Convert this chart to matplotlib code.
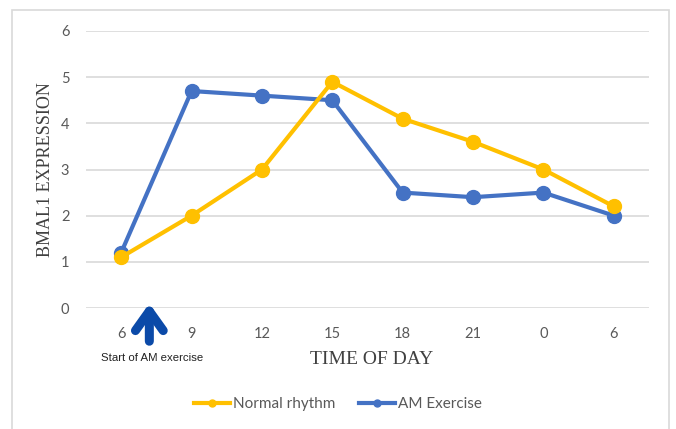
import matplotlib.pyplot as plt
from matplotlib.patches import Rectangle

# chart data
hours = ['6', '9', '12', '15', '18', '21', '0', '6']
normal = [1.1, 2.0, 3.0, 4.9, 4.1, 3.6, 3.0, 2.2]
am_exercise = [1.2, 4.7, 4.6, 4.5, 2.5, 2.4, 2.5, 2.0]
yticks = [0, 1, 2, 3, 4, 5, 6]

yellow = '#FFC000'
blue = '#4472C4'
grey_txt = '#595959'

fig = plt.figure(figsize=(6.76, 4.29), dpi=100)
ax = fig.add_axes([86/676, 1 - 308/429, (649-86)/676, (308-31)/429])

x = list(range(len(hours)))
ax.plot(x, am_exercise, color=blue, lw=3, marker='o', ms=10, label='AM Exercise', zorder=3)
ax.plot(x, normal, color=yellow, lw=3, marker='o', ms=10, label='Normal rhythm', zorder=4)

ax.set_xlim(-0.5, len(hours) - 0.5)
ax.set_ylim(0, 6)
ax.set_yticks(yticks)
ax.set_xticks(x)
ax.set_xticklabels(hours)
ax.grid(axis='y', color='#d9d9d9', lw=1.2)
ax.set_axisbelow(True)
for s in ax.spines.values():
    s.set_visible(False)
ax.tick_params(length=0, labelsize=10.5, colors=grey_txt, pad=12)
for lab in ax.get_xticklabels() + ax.get_yticklabels():
    lab.set_family('Lato')
ax.tick_params(axis='x', pad=14)

fig.text(372/676, 1 - 360/429, 'TIME OF DAY', family='Liberation Serif', fontsize=14,
         color='#404040', ha='center', va='center')
fig.text(46/676, 1 - 170/429, 'BMAL1 EXPRESSION', family='Liberation Serif', fontsize=13,
         color='#404040', ha='center', va='center', rotation=90)

# arrow + note
ax.annotate('', xy=(0.4, 0.1), xytext=(0.4, -0.72), xycoords='data',
            arrowprops=dict(arrowstyle='->,head_length=1.4,head_width=1.0', lw=6.5,
                            color='#0b4aa8', capstyle='round', joinstyle='round',
                            shrinkA=0, shrinkB=0),
            annotation_clip=False)
fig.text(152/676, 1 - 358/429, 'Start of AM exercise', fontsize=8.2, family='Liberation Sans',
         color='#222222', ha='center', va='center')

handles, labels = ax.get_legend_handles_labels()
leg = fig.legend(handles[::-1], labels[::-1], loc='center', bbox_to_anchor=(338/676, 1 - 404/429),
                 ncol=2, frameon=False, handlelength=2.4, markerscale=0.5,
                 columnspacing=1.5, handletextpad=0.2, labelcolor=grey_txt,
                 prop={'family': 'Lato', 'size': 11})

fig.patches.append(Rectangle((12/676, -0.1), (669-12)/676, 1.1 - 10/429, transform=fig.transFigure,
                             fill=False, edgecolor='#d9d9d9', lw=1.2))

fig.savefig('out.png', dpi=100)
